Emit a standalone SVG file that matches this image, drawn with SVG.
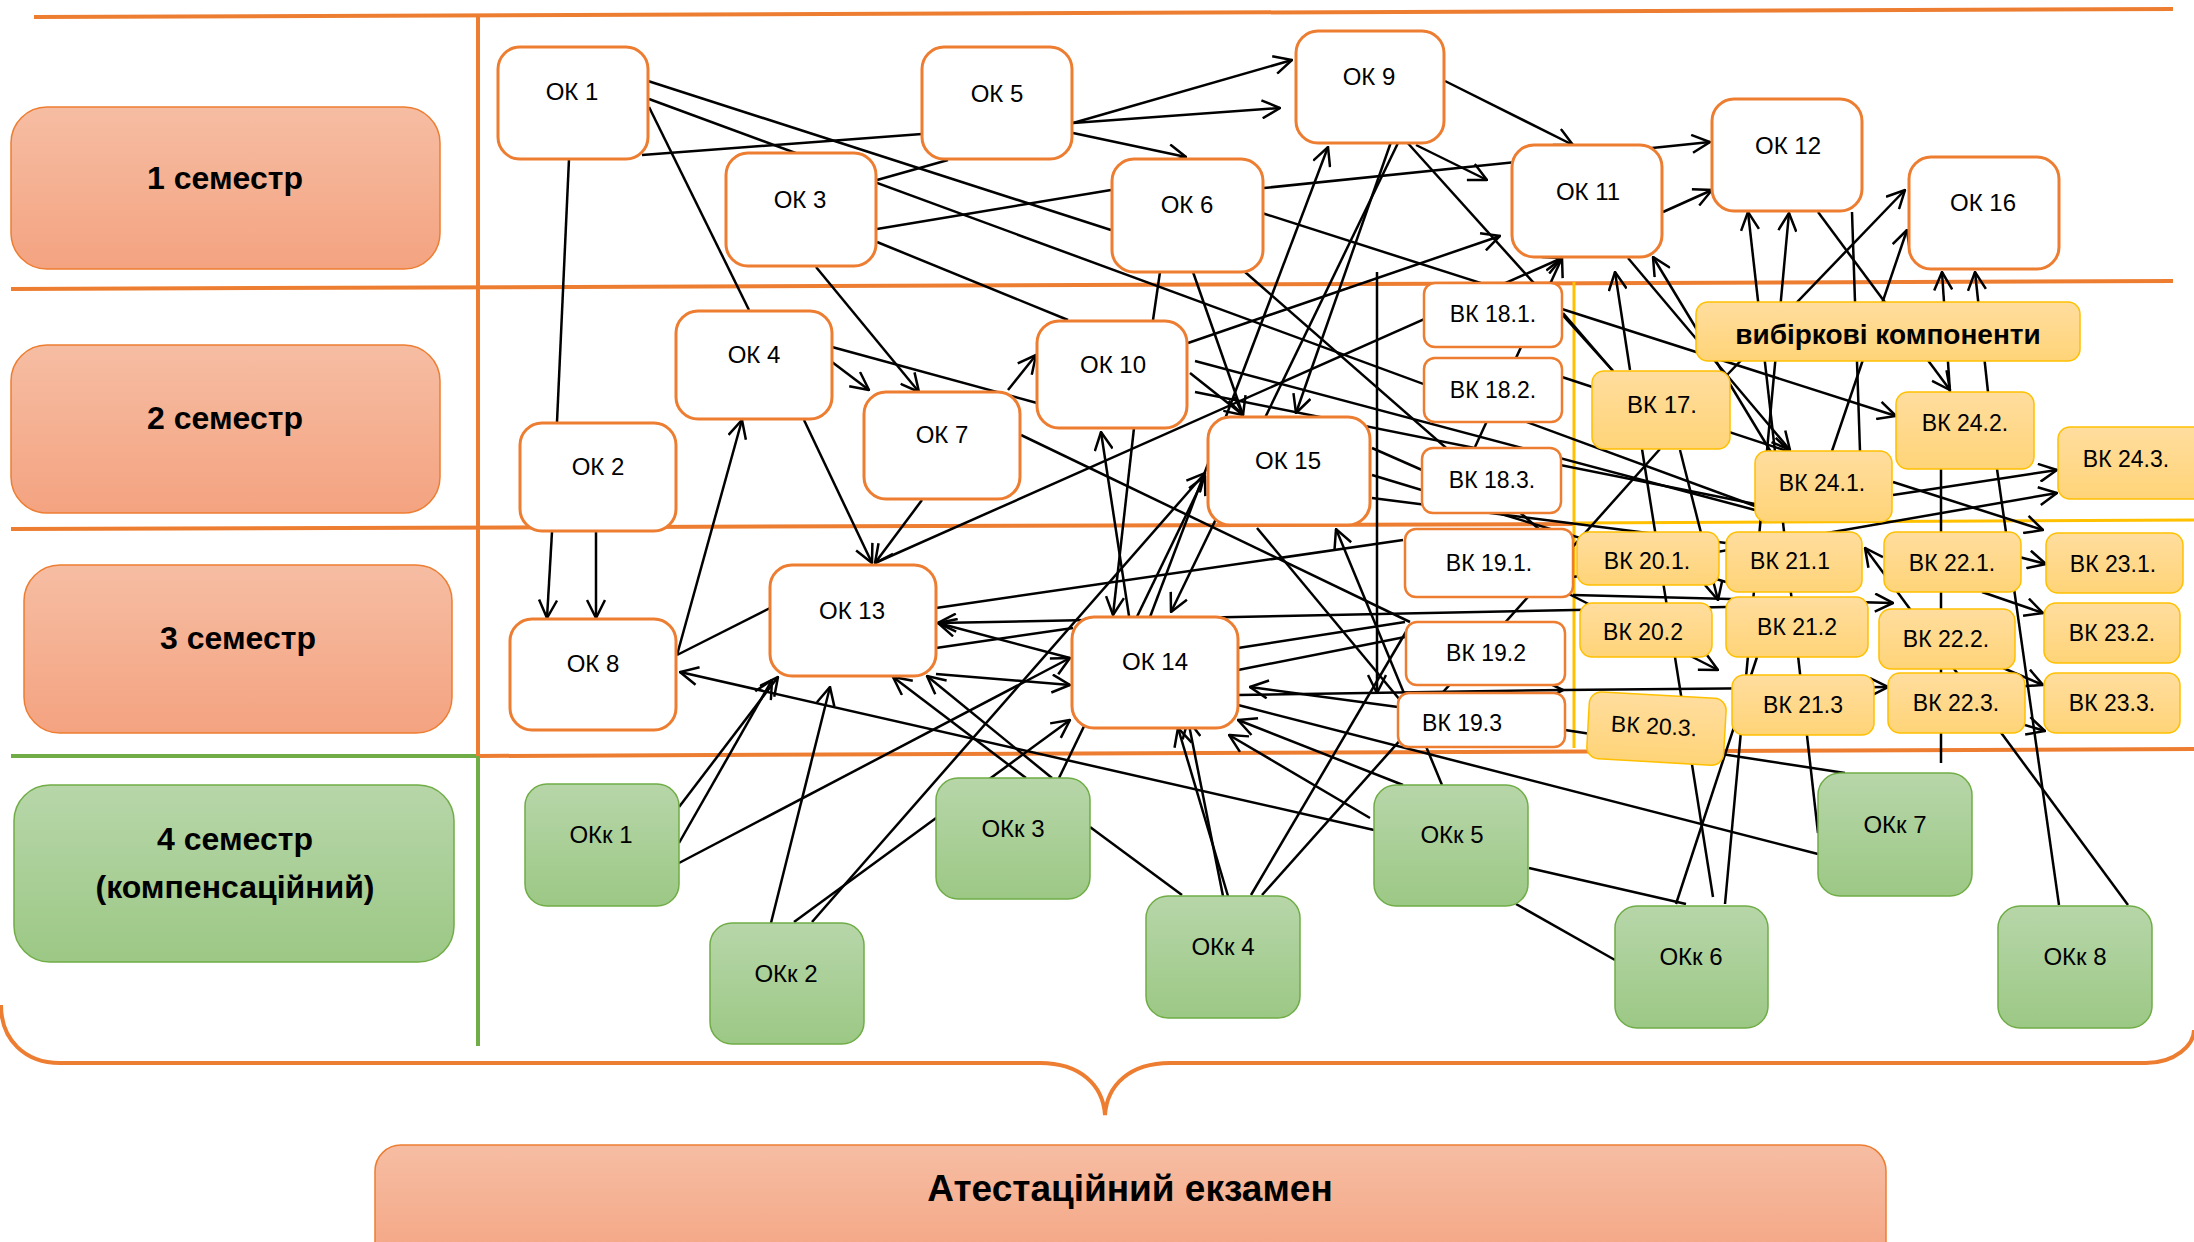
<svg xmlns="http://www.w3.org/2000/svg" width="2194" height="1242" viewBox="0 0 2194 1242">
<defs>
<linearGradient id="gO" x1="0" y1="0" x2="0" y2="1"><stop offset="0" stop-color="#F6BDA3"/><stop offset="1" stop-color="#F4A380"/></linearGradient>
<linearGradient id="gG" x1="0" y1="0" x2="0" y2="1"><stop offset="0" stop-color="#B7D6A9"/><stop offset="1" stop-color="#9CC885"/></linearGradient>
<linearGradient id="gY" x1="0" y1="0" x2="0" y2="1"><stop offset="0" stop-color="#FFDD9E"/><stop offset="1" stop-color="#FFD478"/></linearGradient>
<marker id="ar" viewBox="0 0 20 20" refX="19" refY="10" markerWidth="20" markerHeight="20" markerUnits="userSpaceOnUse" orient="auto"><path d="M1,1 L19,10 L1,19" fill="none" stroke="#000" stroke-width="2.5"/></marker>
</defs>
<style>
.sem{fill:url(#gO);stroke:#ED7D31;stroke-width:1.5}
.semg{fill:url(#gG);stroke:#70AD47;stroke-width:1.5}
.ok{fill:#fff;stroke:#ED7D31;stroke-width:3}
.vkw{fill:#fff;stroke:#ED7D31;stroke-width:2.5}
.vky{fill:url(#gY);stroke:#FFC000;stroke-width:1.5}
.okk{fill:url(#gG);stroke:#70AD47;stroke-width:1.5}
.t{font-family:"Liberation Sans",Arial,sans-serif;font-size:24px;fill:#000;text-anchor:middle;dominant-baseline:central}
.tv{font-family:"Liberation Sans",Arial,sans-serif;font-size:23px;fill:#000;text-anchor:middle;dominant-baseline:central}
.tb{font-family:"Liberation Sans",Arial,sans-serif;font-size:32px;font-weight:bold;fill:#000;text-anchor:middle;dominant-baseline:central}
.lo{stroke:#ED7D31;stroke-width:4;fill:none}
.lg{stroke:#70AD47;stroke-width:4;fill:none}
.ly{stroke:#FFC000;stroke-width:3;fill:none}
#connectors line{stroke:#000;stroke-width:2.5}
#connectors line.a{marker-end:url(#ar)}
</style>
<rect width="2194" height="1242" fill="#fff"/>
<g id="layout">
<line class="lo" x1="34" y1="17" x2="2173" y2="9"/>
<line class="lo" x1="11" y1="289" x2="2173" y2="281"/>
<line class="lo" x1="11" y1="529" x2="1575" y2="524"/>
<line class="ly" x1="1575" y1="523" x2="2194" y2="520"/>
<line class="lg" x1="11" y1="756" x2="478" y2="756"/>
<line class="lo" x1="478" y1="756" x2="2194" y2="749"/>
<line class="lo" x1="478" y1="17" x2="478" y2="756"/>
<line class="lg" x1="478" y1="756" x2="478" y2="1046"/>
<line class="ly" x1="1574" y1="282" x2="1574" y2="748"/>
<path class="lo" d="M1,1005 C1,1040 25,1063 60,1063 L1040,1063 C1080,1063 1103,1085 1105,1115 C1107,1085 1130,1063 1170,1063 L2146,1063 C2175,1063 2194,1045 2194,1030"/>
</g>
<g id="connectors">
<line x1="569" y1="159" x2="557" y2="422"/>
<line x1="648" y1="81" x2="1111" y2="230"/>
<line x1="649" y1="99" x2="1755" y2="506"/>
<line x1="642" y1="155" x2="922" y2="134"/>
<line x1="649" y1="107" x2="749" y2="310"/>
<line x1="877" y1="180" x2="948" y2="160"/>
<line x1="877" y1="229" x2="1111" y2="190"/>
<line x1="877" y1="242" x2="1068" y2="320"/>
<line x1="832" y1="347" x2="1037" y2="403"/>
<line x1="1160" y1="272" x2="1153" y2="320"/>
<line x1="1405" y1="140" x2="1613" y2="371"/>
<line x1="1245" y1="272" x2="1540" y2="530"/>
<line x1="1021" y1="435" x2="1410" y2="622"/>
<line x1="936" y1="608" x2="1403" y2="540"/>
<line x1="936" y1="648" x2="1073" y2="628"/>
<line x1="1090" y1="827" x2="1182" y2="895"/>
<line x1="677" y1="655" x2="770" y2="608"/>
<line x1="1238" y1="648" x2="1405" y2="622"/>
<line x1="1238" y1="670" x2="1405" y2="637"/>
<line x1="1238" y1="705" x2="1818" y2="854"/>
<line x1="1529" y1="868" x2="1686" y2="904"/>
<line x1="1516" y1="904" x2="1615" y2="960"/>
<line x1="1372" y1="448" x2="1422" y2="470"/>
<line x1="1195" y1="361" x2="1755" y2="510"/>
<line x1="1195" y1="392" x2="1755" y2="504"/>
<line x1="1997" y1="469" x2="2059" y2="905"/>
<line x1="1941" y1="469" x2="1941" y2="763"/>
<line x1="1642" y1="449" x2="1713" y2="897"/>
<line x1="1676" y1="904" x2="1757" y2="657"/>
<line x1="1565" y1="730" x2="1845" y2="773"/>
<line x1="1852" y1="212" x2="1860" y2="451"/>
<line x1="1251" y1="895" x2="1410" y2="625"/>
<line x1="1262" y1="895" x2="1660" y2="449"/>
<line x1="1372" y1="475" x2="1726" y2="582"/>
<line x1="1372" y1="498" x2="1726" y2="543"/>
<line x1="1563" y1="313" x2="1613" y2="371"/>
<line x1="1257" y1="528" x2="1400" y2="700"/>
<line class="a" x1="552" y1="532" x2="547" y2="618"/>
<line class="a" x1="596" y1="532" x2="596" y2="618"/>
<line class="a" x1="816" y1="267" x2="919" y2="392"/>
<line class="a" x1="832" y1="362" x2="869" y2="390"/>
<line class="a" x1="1008" y1="390" x2="1036" y2="355"/>
<line class="a" x1="1073" y1="123" x2="1292" y2="60"/>
<line class="a" x1="1073" y1="123" x2="1280" y2="108"/>
<line class="a" x1="1073" y1="133" x2="1186" y2="157"/>
<line class="a" x1="1264" y1="188" x2="1710" y2="142"/>
<line class="a" x1="1445" y1="81" x2="1573" y2="145"/>
<line class="a" x1="1416" y1="145" x2="1487" y2="180"/>
<line class="a" x1="1391" y1="142" x2="1296" y2="413"/>
<line class="a" x1="1398" y1="143" x2="1171" y2="612"/>
<line class="a" x1="1150" y1="617" x2="1328" y2="147"/>
<line class="a" x1="1193" y1="272" x2="1243" y2="415"/>
<line class="a" x1="1190" y1="373" x2="1243" y2="415"/>
<line class="a" x1="1262" y1="213" x2="1896" y2="416"/>
<line class="a" x1="1663" y1="212" x2="1712" y2="190"/>
<line class="a" x1="677" y1="655" x2="742" y2="420"/>
<line class="a" x1="804" y1="420" x2="872" y2="563"/>
<line class="a" x1="922" y1="500" x2="875" y2="563"/>
<line class="a" x1="1726" y1="607" x2="938" y2="623"/>
<line class="a" x1="1070" y1="658" x2="938" y2="623"/>
<line class="a" x1="936" y1="674" x2="1070" y2="685"/>
<line class="a" x1="679" y1="863" x2="1070" y2="658"/>
<line class="a" x1="794" y1="922" x2="1070" y2="720"/>
<line class="a" x1="679" y1="807" x2="778" y2="677"/>
<line class="a" x1="679" y1="843" x2="772" y2="680"/>
<line class="a" x1="771" y1="923" x2="830" y2="687"/>
<line class="a" x1="1026" y1="778" x2="893" y2="677"/>
<line class="a" x1="1052" y1="778" x2="927" y2="676"/>
<line class="a" x1="812" y1="922" x2="1205" y2="473"/>
<line class="a" x1="1059" y1="778" x2="1205" y2="476"/>
<line class="a" x1="1223" y1="896" x2="1188" y2="720"/>
<line class="a" x1="1228" y1="896" x2="1178" y2="728"/>
<line class="a" x1="1374" y1="830" x2="680" y2="672"/>
<line class="a" x1="1403" y1="785" x2="1238" y2="720"/>
<line class="a" x1="1370" y1="818" x2="1229" y2="735"/>
<line class="a" x1="1398" y1="707" x2="1250" y2="687"/>
<line class="a" x1="1134" y1="428" x2="1113" y2="615"/>
<line class="a" x1="1129" y1="616" x2="1101" y2="432"/>
<line class="a" x1="1377" y1="272" x2="1377" y2="693"/>
<line class="a" x1="1238" y1="695" x2="1563" y2="690"/>
<line class="a" x1="1563" y1="690" x2="1888" y2="687"/>
<line class="a" x1="1442" y1="785" x2="1336" y2="529"/>
<line class="a" x1="875" y1="563" x2="1562" y2="258"/>
<line class="a" x1="1475" y1="447" x2="1562" y2="258"/>
<line class="a" x1="1630" y1="370" x2="1615" y2="272"/>
<line class="a" x1="1777" y1="462" x2="1653" y2="257"/>
<line class="a" x1="1725" y1="904" x2="1789" y2="213"/>
<line class="a" x1="1818" y1="833" x2="1748" y2="212"/>
<line class="a" x1="1727" y1="375" x2="1905" y2="190"/>
<line class="a" x1="1832" y1="451" x2="1907" y2="230"/>
<line class="a" x1="1950" y1="392" x2="1942" y2="272"/>
<line class="a" x1="1988" y1="392" x2="1975" y2="272"/>
<line class="a" x1="1818" y1="212" x2="1950" y2="390"/>
<line class="a" x1="1893" y1="495" x2="2057" y2="470"/>
<line class="a" x1="1573" y1="577" x2="2057" y2="493"/>
<line class="a" x1="1893" y1="482" x2="2043" y2="530"/>
<line class="a" x1="2000" y1="552" x2="2046" y2="564"/>
<line class="a" x1="1982" y1="592" x2="2043" y2="613"/>
<line class="a" x1="2003" y1="668" x2="2043" y2="685"/>
<line class="a" x1="1995" y1="716" x2="2045" y2="731"/>
<line class="a" x1="1565" y1="592" x2="1718" y2="670"/>
<line class="a" x1="1680" y1="450" x2="1718" y2="600"/>
<line class="a" x1="1573" y1="595" x2="1893" y2="603"/>
<line class="a" x1="2128" y1="905" x2="1865" y2="548"/>
<line class="a" x1="1628" y1="258" x2="1790" y2="450"/>
<line class="a" x1="1562" y1="377" x2="1790" y2="452"/>
<line class="a" x1="1188" y1="343" x2="1500" y2="236"/>
</g>
<g id="sem1"><rect class="sem" x="11" y="107" width="429" height="162" rx="36"/><text class="tb" x="225" y="178">1 семестр</text></g>
<g id="sem2"><rect class="sem" x="11" y="345" width="429" height="168" rx="36"/><text class="tb" x="225" y="418">2 семестр</text></g>
<g id="sem3"><rect class="sem" x="24" y="565" width="428" height="168" rx="36"/><text class="tb" x="238" y="638">3 семестр</text></g>
<g id="sem4"><rect class="semg" x="14" y="785" width="440" height="177" rx="36"/><text class="tb" x="235" y="839">4 семестр</text><text class="tb" x="235" y="887">(компенсаційний)</text></g>
<g id="exam"><rect class="sem" x="375" y="1145" width="1511" height="130" rx="26"/><text class="tb" style="font-size:37px" x="1130" y="1188">Атестаційний екзамен</text></g>
<g id="ok1"><rect class="ok" x="498" y="47" width="150" height="112" rx="22"/><text class="t" x="572" y="91">ОК 1</text></g>
<g id="ok5"><rect class="ok" x="922" y="47" width="150" height="112" rx="22"/><text class="t" x="997" y="93">ОК 5</text></g>
<g id="ok3"><rect class="ok" x="726" y="153" width="150" height="113" rx="22"/><text class="t" x="800" y="199">ОК 3</text></g>
<g id="ok6"><rect class="ok" x="1112" y="159" width="151" height="113" rx="22"/><text class="t" x="1187" y="204">ОК 6</text></g>
<g id="ok9"><rect class="ok" x="1296" y="31" width="148" height="112" rx="22"/><text class="t" x="1369" y="76">ОК 9</text></g>
<g id="ok11"><rect class="ok" x="1512" y="145" width="150" height="112" rx="22"/><text class="t" x="1588" y="191">ОК 11</text></g>
<g id="ok12"><rect class="ok" x="1712" y="99" width="150" height="112" rx="22"/><text class="t" x="1788" y="145">ОК 12</text></g>
<g id="ok16"><rect class="ok" x="1909" y="157" width="150" height="112" rx="22"/><text class="t" x="1983" y="202">ОК 16</text></g>
<g id="ok4"><rect class="ok" x="676" y="311" width="156" height="108" rx="22"/><text class="t" x="754" y="354">ОК 4</text></g>
<g id="ok10"><rect class="ok" x="1037" y="321" width="150" height="107" rx="22"/><text class="t" x="1113" y="364">ОК 10</text></g>
<g id="ok7"><rect class="ok" x="864" y="392" width="156" height="107" rx="22"/><text class="t" x="942" y="434">ОК 7</text></g>
<g id="ok15"><rect class="ok" x="1208" y="417" width="162" height="108" rx="22"/><text class="t" x="1288" y="460">ОК 15</text></g>
<g id="ok2"><rect class="ok" x="520" y="423" width="156" height="108" rx="22"/><text class="t" x="598" y="466">ОК 2</text></g>
<g id="ok13"><rect class="ok" x="770" y="565" width="166" height="111" rx="22"/><text class="t" x="852" y="610">ОК 13</text></g>
<g id="ok14"><rect class="ok" x="1072" y="617" width="166" height="111" rx="22"/><text class="t" x="1155" y="661">ОК 14</text></g>
<g id="ok8"><rect class="ok" x="510" y="619" width="166" height="111" rx="22"/><text class="t" x="593" y="663">ОК 8</text></g>
<g id="vk18-1"><rect class="vkw" x="1424" y="283" width="138" height="64" rx="11"/><text class="tv" x="1493" y="314">ВК 18.1.</text></g>
<g id="vk18-2"><rect class="vkw" x="1424" y="358" width="138" height="64" rx="11"/><text class="tv" x="1493" y="390">ВК 18.2.</text></g>
<g id="vk18-3"><rect class="vkw" x="1422" y="448" width="139" height="65" rx="11"/><text class="tv" x="1492" y="480">ВК 18.3.</text></g>
<g id="vk19-1"><rect class="vkw" x="1405" y="529" width="168" height="68" rx="11"/><text class="tv" x="1489" y="563">ВК 19.1.</text></g>
<g id="vk19-2"><rect class="vkw" x="1406" y="622" width="159" height="63" rx="11"/><text class="tv" x="1486" y="653">ВК 19.2</text></g>
<g id="vk19-3"><rect class="vkw" x="1398" y="693" width="167" height="54" rx="11"/><text class="tv" x="1462" y="723">ВК 19.3</text></g>
<g id="vibirkovi"><rect class="vky" x="1696" y="302" width="384" height="59" rx="12"/><text class="tb" style="font-size:28px" x="1888" y="334">вибіркові компоненти</text></g>
<g id="vk17"><rect class="vky" x="1592" y="371" width="138" height="78" rx="12"/><text class="t" x="1662" y="404">ВК 17.</text></g>
<g id="vk24-2"><rect class="vky" x="1896" y="392" width="138" height="77" rx="12"/><text class="tv" x="1965" y="423">ВК 24.2.</text></g>
<g id="vk24-1"><rect class="vky" x="1755" y="451" width="137" height="71" rx="12"/><text class="tv" x="1822" y="483">ВК 24.1.</text></g>
<g id="vk24-3"><rect class="vky" x="2058" y="427" width="150" height="72" rx="12"/><text class="tv" x="2126" y="459">ВК 24.3.</text></g>
<g id="vk20-1"><rect class="vky" x="1577" y="532" width="142" height="53" rx="12"/><text class="tv" x="1647" y="561">ВК 20.1.</text></g>
<g id="vk21-1"><rect class="vky" x="1726" y="532" width="136" height="60" rx="12"/><text class="tv" x="1790" y="561">ВК 21.1</text></g>
<g id="vk22-1"><rect class="vky" x="1884" y="532" width="137" height="60" rx="12"/><text class="tv" x="1952" y="563">ВК 22.1.</text></g>
<g id="vk23-1"><rect class="vky" x="2046" y="533" width="137" height="60" rx="12"/><text class="tv" x="2113" y="564">ВК 23.1.</text></g>
<g id="vk20-2"><rect class="vky" x="1580" y="603" width="132" height="54" rx="12"/><text class="tv" x="1643" y="632">ВК 20.2</text></g>
<g id="vk21-2"><rect class="vky" x="1726" y="597" width="142" height="60" rx="12"/><text class="tv" x="1797" y="627">ВК 21.2</text></g>
<g id="vk22-2"><rect class="vky" x="1879" y="609" width="136" height="60" rx="12"/><text class="tv" x="1946" y="639">ВК 22.2.</text></g>
<g id="vk23-2"><rect class="vky" x="2044" y="603" width="136" height="60" rx="12"/><text class="tv" x="2112" y="633">ВК 23.2.</text></g>
<g id="vk21-3"><rect class="vky" x="1732" y="675" width="142" height="60" rx="12"/><text class="tv" x="1803" y="705">ВК 21.3</text></g>
<g id="vk22-3"><rect class="vky" x="1888" y="673" width="137" height="60" rx="12"/><text class="tv" x="1956" y="703">ВК 22.3.</text></g>
<g id="vk23-3"><rect class="vky" x="2044" y="673" width="136" height="60" rx="12"/><text class="tv" x="2112" y="703">ВК 23.3.</text></g>
<g id="vk20-3" transform="rotate(3.2 1656 728)"><rect class="vky" x="1588" y="695" width="137" height="67" rx="12"/><text class="tv" x="1654" y="726">ВК 20.3.</text></g>
<g id="okk1"><rect class="okk" x="525" y="784" width="154" height="122" rx="22"/><text class="t" x="601" y="834">ОКк 1</text></g>
<g id="okk2"><rect class="okk" x="710" y="923" width="154" height="121" rx="22"/><text class="t" x="786" y="973">ОКк 2</text></g>
<g id="okk3"><rect class="okk" x="936" y="778" width="154" height="121" rx="22"/><text class="t" x="1013" y="828">ОКк 3</text></g>
<g id="okk4"><rect class="okk" x="1146" y="896" width="154" height="122" rx="22"/><text class="t" x="1223" y="946">ОКк 4</text></g>
<g id="okk5"><rect class="okk" x="1374" y="785" width="154" height="121" rx="22"/><text class="t" x="1452" y="834">ОКк 5</text></g>
<g id="okk6"><rect class="okk" x="1615" y="906" width="153" height="122" rx="22"/><text class="t" x="1691" y="956">ОКк 6</text></g>
<g id="okk7"><rect class="okk" x="1818" y="773" width="154" height="123" rx="22"/><text class="t" x="1895" y="824">ОКк 7</text></g>
<g id="okk8"><rect class="okk" x="1998" y="906" width="154" height="122" rx="22"/><text class="t" x="2075" y="956">ОКк 8</text></g>
</svg>
